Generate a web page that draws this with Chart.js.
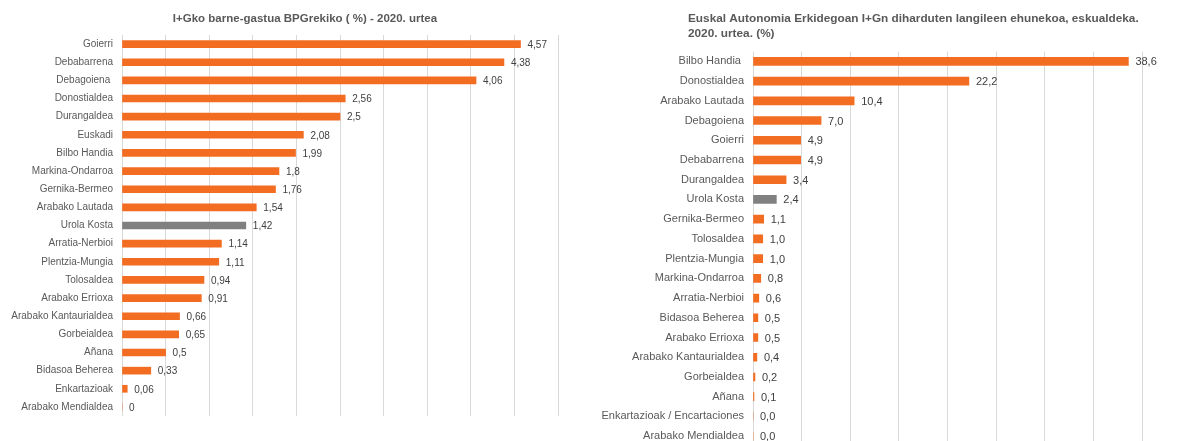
<!DOCTYPE html>
<html>
<head>
<meta charset="utf-8">
<script src="https://cdn.jsdelivr.net/npm/chart.js@4"></script>
<style>
  html, body { margin: 0; padding: 0; background: #fff; overflow: hidden; }
  #wrap { position: relative; width: 1178px; height: 441px; overflow: hidden; }
  #left { position: absolute; left: 0; top: 0; }
  #right { position: absolute; left: 590px; top: 0; }
</style>
</head>
<body>
<div id="wrap">
  <canvas id="left" width="590" height="441"></canvas>
  <canvas id="right" width="588" height="470"></canvas>
</div>
<script>
// left chart: R&D expenditure over GDP
const gastuaRegions = ["Goierri", "Debabarrena", "Debagoiena ", "Donostialdea", "Durangaldea", "Euskadi",
  "Bilbo Handia", "Markina-Ondarroa", "Gernika-Bermeo", "Arabako Lautada", "Urola Kosta", "Arratia-Nerbioi",
  "Plentzia-Mungia", "Tolosaldea", "Arabako Errioxa", "Arabako Kantaurialdea", "Gorbeialdea", "Añana",
  "Bidasoa Beherea", "Enkartazioak", "Arabako Mendialdea"];
const gastuaValues = [4.57, 4.38, 4.06, 2.56, 2.5, 2.08, 1.99, 1.8, 1.76, 1.54, 1.42, 1.14, 1.11, 0.94, 0.91,
  0.66, 0.65, 0.5, 0.33, 0.06, 0];

// right chart: share of R&D staff by region
const langileRegions = ["Bilbo Handia ", "Donostialdea", "Arabako Lautada", "Debagoiena", "Goierri", "Debabarrena",
  "Durangaldea", "Urola Kosta", "Gernika-Bermeo", "Tolosaldea", "Plentzia-Mungia", "Markina-Ondarroa",
  "Arratia-Nerbioi", "Bidasoa Beherea", "Arabako Errioxa", "Arabako Kantaurialdea", "Gorbeialdea", "Añana",
  "Enkartazioak / Encartaciones", "Arabako Mendialdea"];
const langileValues = [38.6, 22.2, 10.4, 7.0, 4.9, 4.9, 3.4, 2.4, 1.1, 1.0, 1.0, 0.8, 0.6, 0.5, 0.5, 0.4, 0.2,
  0.1, 0.0, 0.0];

const highlight = "Urola Kosta";
const orange = "#F26C22";
const grey = "#808080";
const font = "'Liberation Sans', Arial, sans-serif";

function barColors(labels) {
  return labels.map(l => l.trim() === highlight ? grey : orange);
}

// value labels at the end of each bar
const valueLabels = {
  id: "valueLabels",
  afterDatasetsDraw(chart, args, opts) {
    const ctx = chart.ctx;
    const meta = chart.getDatasetMeta(0);
    const data = chart.data.datasets[0].data;
    ctx.save();
    ctx.font = opts.size + "px " + font;
    ctx.fillStyle = "#404040";
    ctx.textAlign = "left";
    ctx.textBaseline = "middle";
    meta.data.forEach((bar, i) => {
      ctx.fillText(opts.format(data[i]), bar.x + 7, bar.y + 1);
    });
    ctx.restore();
  }
};

// chart title, placed freely (the built-in one can't sit left of the axis labels)
const headText = {
  id: "headText",
  afterDraw(chart, args, opts) {
    const ctx = chart.ctx;
    ctx.save();
    ctx.font = "bold " + opts.size + "px " + font;
    ctx.fillStyle = "#595959";
    ctx.textAlign = opts.align;
    ctx.textBaseline = "middle";
    opts.lines.forEach((line, i) => ctx.fillText(line, opts.x, opts.y + i * opts.lineGap));
    ctx.restore();
  }
};

function makeChart(id, labels, values, cfg) {
  return new Chart(document.getElementById(id), {
    type: "bar",
    data: {
      labels: labels,
      datasets: [{
        data: values,
        backgroundColor: barColors(labels),
        barThickness: cfg.barThickness
      }]
    },
    plugins: [valueLabels, headText],
    options: {
      indexAxis: "y",
      responsive: false,
      animation: false,
      layout: { padding: cfg.padding },
      plugins: {
        legend: { display: false },
        tooltip: { enabled: false },
        valueLabels: { format: cfg.format, size: cfg.fontSize },
        headText: cfg.head
      },
      scales: {
        x: {
          min: 0,
          max: cfg.max,
          ticks: { display: false, stepSize: cfg.step },
          grid: { color: "#D9D9D9", drawTicks: false },
          border: { display: false },
          afterFit: s => { s.height = 0; }
        },
        y: {
          ticks: { color: "#595959", font: { family: font, size: cfg.fontSize }, padding: 9, autoSkip: false },
          grid: { display: false, drawTicks: false },
          border: { display: false },
          afterFit: s => { s.width = cfg.axisWidth; }
        }
      }
    }
  });
}

makeChart("left", gastuaRegions, gastuaValues, {
  head: { lines: ["I+Gko barne-gastua BPGrekiko ( %) - 2020. urtea"], x: 305, y: 19, align: "center", size: 11.5, lineGap: 0 },
  padding: { left: 0, right: 32, top: 35, bottom: 25 },
  axisWidth: 122,
  fontSize: 10,
  barThickness: 7,
  max: 5,
  step: 0.5,
  format: v => String(v).replace(".", ",")
});

makeChart("right", langileRegions, langileValues, {
  head: { lines: ["Euskal Autonomia Erkidegoan I+Gn diharduten langileen ehunekoa, eskualdeka.", "2020. urtea. (%)"],
    x: 98, y: 19, align: "left", size: 11.8, lineGap: 14.5 },
  padding: { left: 0, right: 36, top: 51.5, bottom: 24 },
  axisWidth: 163,
  fontSize: 11,
  barThickness: 8,
  max: 40,
  step: 5,
  format: v => v.toFixed(1).replace(".", ",")
});
</script>
</body>
</html>
